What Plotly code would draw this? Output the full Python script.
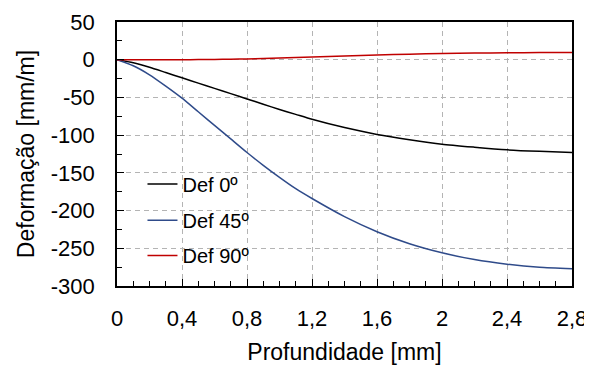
import plotly.graph_objects as go

# Data
depth = [0, 0.1, 0.2, 0.3, 0.4, 0.5, 0.6, 0.7, 0.8, 0.9, 1.0, 1.1, 1.2, 1.4, 1.6, 1.8, 2.0, 2.2, 2.4, 2.6, 2.8]
def_0 = [0, -4, -10, -17, -24, -31, -38, -45, -52, -59, -66, -72.5, -79, -90, -99, -106, -112, -116, -119.5, -121.5, -123]
def_45 = [0, -8, -20, -35, -51, -69, -87, -105, -123, -140, -156, -171, -184, -208, -228, -244, -256, -265, -271, -275, -277]
def_90 = [0, 0, 0, 0, 0, 0.2, 0.4, 0.7, 1.0, 1.6, 2.3, 2.9, 3.5, 5.0, 6.3, 7.3, 8.2, 8.8, 9.2, 9.4, 9.6]

series_names = ["Def 0º", "Def 45º", "Def 90º"]
series_colors = ["#000000", "#2F4B8A", "#C00000"]

x_ticks = [0, 0.4, 0.8, 1.2, 1.6, 2.0, 2.4, 2.8]
x_tick_labels = ["0", "0,4", "0,8", "1,2", "1,6", "2", "2,4", "2,8"]
y_ticks = [50, 0, -50, -100, -150, -200, -250, -300]
y_tick_labels = ["50", "0", "-50", "-100", "-150", "-200", "-250", "-300"]

FONT = "Liberation Sans, Arial, sans-serif"
GRID = "#B4B4B4"

fig = go.Figure()

legends = ["legend", "legend2", "legend3"]
for name, ys, col, lg in zip(series_names, [def_0, def_45, def_90], series_colors, legends):
    fig.add_trace(go.Scatter(x=depth, y=ys, mode="lines", name=name, showlegend=True,
                             line=dict(color=col, width=1.5, shape="spline", smoothing=0.6),
                             legend=lg))

leg_common = dict(xanchor="left", yanchor="middle", bgcolor="rgba(0,0,0,0)",
                  font=dict(family=FONT, size=20, color="#000000"),
                  itemwidth=30)
fig.update_layout(
    showlegend=True,
    legend=dict(x=0.056, y=0.386, **leg_common),
    legend2=dict(x=0.056, y=0.249, **leg_common),
    legend3=dict(x=0.056, y=0.116, **leg_common),
)

fig.update_xaxes(
    range=[0, 2.8], tickmode="array", tickvals=x_ticks, ticktext=x_tick_labels,
    showline=True, linecolor="#000000", linewidth=1.5, mirror=True,
    ticks="inside", ticklen=7, tickwidth=1.2, tickcolor="#000000",
    minor=dict(dtick=0.1, ticks="inside", ticklen=5, tickwidth=1.2, tickcolor="#000000", showgrid=False),
    showgrid=True, gridcolor=GRID, gridwidth=1, griddash="5px,4px",
    zeroline=False,
    tickfont=dict(family=FONT, size=22, color="#000000"),
    ticklabelstandoff=12,
    title=dict(text="Profundidade [mm]", font=dict(family=FONT, size=23, color="#000000"), standoff=20),
)
fig.update_yaxes(
    range=[-300, 50], tickmode="array", tickvals=y_ticks, ticktext=y_tick_labels,
    showline=True, linecolor="#000000", linewidth=1.5, mirror=True,
    ticks="inside", ticklen=7, tickwidth=1.2, tickcolor="#000000",
    minor=dict(dtick=25, tick0=0, ticks="inside", ticklen=5, tickwidth=1.2, tickcolor="#000000", showgrid=False),
    showgrid=True, gridcolor=GRID, gridwidth=1, griddash="5px,4px",
    zeroline=False,
    tickfont=dict(family=FONT, size=22, color="#000000"),
    ticklabelstandoff=16,
    title=dict(text="Deformação [mm/m]", font=dict(family=FONT, size=23, color="#000000"), standoff=10),
)

# page body has an 8px default margin; size the figure so it fits the 592x365 window
fig.update_layout(
    width=584, height=357,
    margin=dict(l=109, r=20, t=14, b=79, autoexpand=False),
    plot_bgcolor="#FFFFFF", paper_bgcolor="#FFFFFF",
    font=dict(family=FONT, color="#000000"),
)

fig.write_html("out.html")
